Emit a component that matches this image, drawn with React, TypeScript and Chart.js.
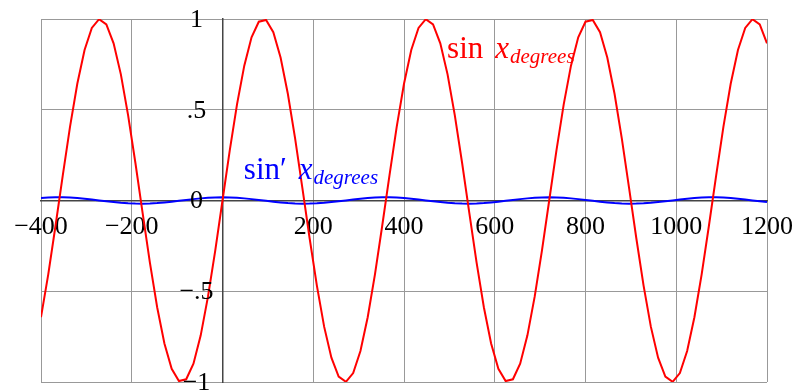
import React, { useEffect, useRef } from 'react';
import { Chart, registerables } from 'chart.js';

Chart.register(...registerables);

// sample positions (degrees)
const xValues = [
  -400, -384, -368, -352, -336, -320, -304, -288, -272, -256, -240, -224, -208, -192, -176, -160, -144, -128, -112, -96,
  -80, -64, -48, -32, -16, 0, 16, 32, 48, 64, 80, 96, 112, 128, 144, 160, 176, 192, 208, 224,
  240, 256, 272, 288, 304, 320, 336, 352, 368, 384, 400, 416, 432, 448, 464, 480, 496, 512, 528, 544,
  560, 576, 592, 608, 624, 640, 656, 672, 688, 704, 720, 736, 752, 768, 784, 800, 816, 832, 848, 864,
  880, 896, 912, 928, 944, 960, 976, 992, 1008, 1024, 1040, 1056, 1072, 1088, 1104, 1120, 1136, 1152, 1168, 1184,
  1200,
];

// sin x (degrees)
const sinValues = [
  -0.643, -0.407, -0.139, 0.139, 0.407, 0.643, 0.829, 0.951, 0.999, 0.970, 0.866, 0.695, 0.469, 0.208, -0.070,
  -0.342, -0.588, -0.788, -0.927, -0.995, -0.985, -0.899, -0.743, -0.530, -0.276, 0, 0.276, 0.530, 0.743, 0.899,
  0.985, 0.995, 0.927, 0.788, 0.588, 0.342, 0.070, -0.208, -0.469, -0.695, -0.866, -0.970, -0.999, -0.951, -0.829,
  -0.643, -0.407, -0.139, 0.139, 0.407, 0.643, 0.829, 0.951, 0.999, 0.970, 0.866, 0.695, 0.469, 0.208, -0.070,
  -0.342, -0.588, -0.788, -0.927, -0.995, -0.985, -0.899, -0.743, -0.530, -0.276, 0, 0.276, 0.530, 0.743, 0.899,
  0.985, 0.995, 0.927, 0.788, 0.588, 0.342, 0.070, -0.208, -0.469, -0.695, -0.866, -0.970, -0.999, -0.951, -0.829,
  -0.643, -0.407, -0.139, 0.139, 0.407, 0.643, 0.829, 0.951, 0.999, 0.970, 0.866,
];

// sin' x (degrees)
const sinPrimeValues = [
  0.0134, 0.0159, 0.0173, 0.0173, 0.0159, 0.0134, 0.0098, 0.0054, 0.0006, -0.0042, -0.0087, -0.0125, -0.0154, -0.0171, -0.0174,
  -0.0164, -0.0141, -0.0107, -0.0065, -0.0018, 0.0030, 0.0076, 0.0117, 0.0148, 0.0168, 0.0175, 0.0168, 0.0148, 0.0117, 0.0076,
  0.0030, -0.0018, -0.0065, -0.0107, -0.0141, -0.0164, -0.0174, -0.0171, -0.0154, -0.0125, -0.0087, -0.0042, 0.0006, 0.0054, 0.0098,
  0.0134, 0.0159, 0.0173, 0.0173, 0.0159, 0.0134, 0.0098, 0.0054, 0.0006, -0.0042, -0.0087, -0.0125, -0.0154, -0.0171, -0.0174,
  -0.0164, -0.0141, -0.0107, -0.0065, -0.0018, 0.0030, 0.0076, 0.0117, 0.0148, 0.0168, 0.0175, 0.0168, 0.0148, 0.0117, 0.0076,
  0.0030, -0.0018, -0.0065, -0.0107, -0.0141, -0.0164, -0.0174, -0.0171, -0.0154, -0.0125, -0.0087, -0.0042, 0.0006, 0.0054, 0.0098,
  0.0134, 0.0159, 0.0173, 0.0173, 0.0159, 0.0134, 0.0098, 0.0054, 0.0006, -0.0042, -0.0087,
];

const xTickValues = [-400, -200, 0, 200, 400, 600, 800, 1000, 1200];
const xTickLabels = ['\u2212400', '\u2212200', '', '200', '400', '600', '800', '1000', '1200'];
const yTickValues = [-1, -0.5, 0, 0.5, 1];
const yTickLabels = ['\u22121', '\u2212.5', '0', '.5', '1'];

const seriesNames = ['sin', 'sin\u2032'];
const seriesSubscript = 'degrees';
const labelAnchors = [
  { x: 495, y: 0.785 },
  { x: 47, y: 0.118 },
];
const seriesColors = ['#ff0000', '#0000ff'];

const FONT = '"Liberation Serif", "DejaVu Serif", serif';

const overlayPlugin = {
  id: 'overlay',
  afterDatasetsDraw(chart: any) {
    const { ctx, scales } = chart;
    const xs = scales.x;
    const ys = scales.y;
    ctx.save();
    // y tick labels, centred left of the vertical axis
    ctx.font = `26px ${FONT}`;
    ctx.fillStyle = '#000';
    ctx.textAlign = 'center';
    ctx.textBaseline = 'middle';
    const cx = xs.getPixelForValue(0) - 26;
    yTickValues.forEach((v, i) => {
      ctx.fillText(yTickLabels[i], cx, ys.getPixelForValue(v) + 1);
    });
    // series labels
    ctx.textAlign = 'left';
    ctx.textBaseline = 'alphabetic';
    seriesNames.forEach((name, i) => {
      let px = xs.getPixelForValue(labelAnchors[i].x);
      const py = ys.getPixelForValue(labelAnchors[i].y);
      ctx.fillStyle = seriesColors[i];
      ctx.font = `31px ${FONT}`;
      ctx.fillText(name, px, py);
      px += ctx.measureText(name).width + 12;
      ctx.font = `italic 31px ${FONT}`;
      ctx.fillText('x', px, py);
      px += ctx.measureText('x').width + 1;
      ctx.font = `italic 21px ${FONT}`;
      ctx.fillText(seriesSubscript, px, py + 5);
    });
    ctx.restore();
  },
};

export default function App() {
  const canvasRef = useRef<HTMLCanvasElement | null>(null);

  useEffect(() => {
    document.body.style.margin = '0';
    const canvas = canvasRef.current;
    if (!canvas) return;
    const chart = new Chart(canvas, {
      type: 'scatter',
      data: {
        datasets: [
          {
            label: 'sin x',
            data: xValues.map((x, i) => ({ x, y: sinValues[i] })),
            showLine: true,
            borderColor: seriesColors[0],
            borderWidth: 2,
            pointRadius: 0,
            tension: 0,
          },
          {
            label: "sin' x",
            data: xValues.map((x, i) => ({ x, y: sinPrimeValues[i] })),
            showLine: true,
            borderColor: seriesColors[1],
            borderWidth: 2,
            pointRadius: 0,
            tension: 0,
          },
        ],
      },
      options: {
        animation: false,
        responsive: false,
        devicePixelRatio: 1,
        layout: { padding: { left: 41, top: 19, right: 31, bottom: 10 } },
        plugins: { legend: { display: false }, tooltip: { enabled: false } },
        scales: {
          x: {
            type: 'linear',
            min: -400,
            max: 1200,
            position: { y: 0 } as any,
            afterFit: (s: any) => {
              s.height = 0;
              s.paddingLeft = 0;
              s.paddingRight = 0;
              s.paddingTop = 0;
              s.paddingBottom = 0;
            },
            afterBuildTicks: (s: any) => {
              s.ticks = xTickValues.map((v) => ({ value: v }));
            },
            ticks: {
              autoSkip: false,
              maxRotation: 0,
              padding: 11,
              color: '#000',
              font: { family: FONT, size: 26 },
              callback: (v: any) => {
                const i = xTickValues.indexOf(Number(v));
                return i >= 0 ? xTickLabels[i] : '';
              },
            },
            grid: { color: '#999999', lineWidth: 1, drawTicks: false },
            border: { display: true, color: '#444444', width: 1.5 },
          },
          y: {
            type: 'linear',
            min: -1,
            max: 1,
            position: { x: 0 } as any,
            afterFit: (s: any) => {
              s.width = 0;
              s.paddingLeft = 0;
              s.paddingRight = 0;
              s.paddingTop = 0;
              s.paddingBottom = 0;
            },
            afterBuildTicks: (s: any) => {
              s.ticks = yTickValues.map((v) => ({ value: v }));
            },
            ticks: { display: false },
            grid: { color: '#999999', lineWidth: 1, drawTicks: false },
            border: { display: true, color: '#444444', width: 1.5 },
          },
        },
      },
      plugins: [overlayPlugin],
    });
    return () => chart.destroy();
  }, []);

  return (
    <div style={{ position: 'absolute', left: 0, top: 0, width: 798, height: 392, background: '#fff' }}>
      <canvas ref={canvasRef} width={798} height={392} style={{ display: 'block' }} />
    </div>
  );
}
